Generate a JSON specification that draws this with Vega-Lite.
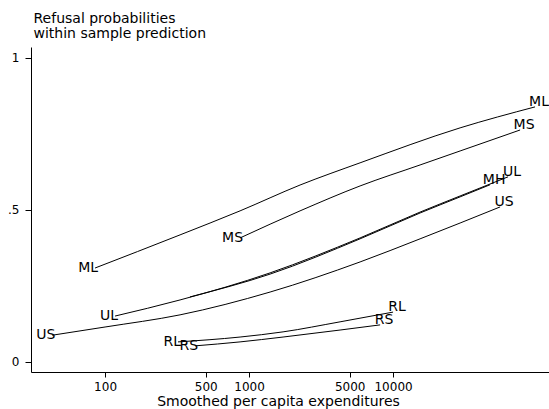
{
  "$schema": "https://vega.github.io/schema/vega-lite/v6.json",
  "width": 518,
  "height": 325,
  "autosize": {"type": "none"},
  "padding": {"left": 31, "top": 47, "right": 0, "bottom": 37},
  "background": "white",
  "config": {
    "view": {"stroke": null},
    "font": "DejaVu Sans",
    "axis": {"grid": false, "domainColor": "black", "tickColor": "black", "labelColor": "black", "titleColor": "black", "domainWidth": 1, "tickWidth": 1, "labelFont": "DejaVu Sans", "titleFont": "DejaVu Sans", "titleFontWeight": "normal"}
  },
  "data": {
    "values": [
      {"series": "ML", "x": 85.2, "y": 0.309},
      {"series": "ML", "x": 331.7, "y": 0.418},
      {"series": "ML", "x": 866, "y": 0.497},
      {"series": "ML", "x": 2260, "y": 0.582},
      {"series": "ML", "x": 5900, "y": 0.655},
      {"series": "ML", "x": 29200, "y": 0.770},
      {"series": "ML", "x": 96800, "y": 0.839},
      {"series": "MS", "x": 866, "y": 0.408},
      {"series": "MS", "x": 2260, "y": 0.497},
      {"series": "MS", "x": 5900, "y": 0.579},
      {"series": "MS", "x": 15400, "y": 0.648},
      {"series": "MS", "x": 29200, "y": 0.694},
      {"series": "MS", "x": 76200, "y": 0.763},
      {"series": "UL", "x": 117.3, "y": 0.151},
      {"series": "UL", "x": 331.7, "y": 0.204},
      {"series": "UL", "x": 1400, "y": 0.293},
      {"series": "UL", "x": 5900, "y": 0.408},
      {"series": "UL", "x": 15400, "y": 0.493},
      {"series": "UL", "x": 29200, "y": 0.546},
      {"series": "UL", "x": 62900, "y": 0.609},
      {"series": "MH", "x": 389, "y": 0.214},
      {"series": "MH", "x": 1400, "y": 0.289},
      {"series": "MH", "x": 5900, "y": 0.405},
      {"series": "MH", "x": 15400, "y": 0.490},
      {"series": "MH", "x": 29200, "y": 0.543},
      {"series": "MH", "x": 47200, "y": 0.583},
      {"series": "US", "x": 43, "y": 0.088},
      {"series": "US", "x": 100, "y": 0.115},
      {"series": "US", "x": 331.7, "y": 0.155},
      {"series": "US", "x": 1400, "y": 0.230},
      {"series": "US", "x": 5900, "y": 0.329},
      {"series": "US", "x": 15400, "y": 0.405},
      {"series": "US", "x": 29200, "y": 0.457},
      {"series": "US", "x": 55400, "y": 0.510},
      {"series": "RL", "x": 321, "y": 0.066},
      {"series": "RL", "x": 866, "y": 0.082},
      {"series": "RL", "x": 1722, "y": 0.099},
      {"series": "RL", "x": 4285, "y": 0.132},
      {"series": "RL", "x": 10000, "y": 0.164},
      {"series": "RS", "x": 422, "y": 0.053},
      {"series": "RS", "x": 866, "y": 0.066},
      {"series": "RS", "x": 1722, "y": 0.082},
      {"series": "RS", "x": 4285, "y": 0.105},
      {"series": "RS", "x": 8130, "y": 0.122}
    ]
  },
  "transform": [
    {"joinaggregate": [{"op": "min", "field": "x", "as": "xmin"}, {"op": "max", "field": "x", "as": "xmax"}], "groupby": ["series"]}
  ],
  "encoding": {
    "x": {
      "field": "x", "type": "quantitative",
      "scale": {"type": "log", "domain": [30.6, 121000], "nice": false, "zero": false},
      "axis": {
        "values": [100, 500, 1000, 5000, 10000],
        "format": "d",
        "labelFontSize": 12,
        "tickSize": 5,
        "labelBaseline": "alphabetic",
        "labelPadding": 13,
        "labelFlush": false,
        "labelOverlap": false,
        "title": "Smoothed per capita expenditures",
        "titleFontSize": 14,
        "titleX": 247,
        "titleY": 33,
        "titleAlign": "center",
        "titleBaseline": "alphabetic"
      }
    },
    "y": {
      "field": "y", "type": "quantitative",
      "scale": {"domain": [-0.033, 1.036], "nice": false, "zero": false},
      "axis": {
        "values": [0, 0.5, 1],
        "labelExpr": "datum.value == 0 ? '0' : (datum.value == 1 ? '1' : '.5')",
        "labelFontSize": 12,
        "tickSize": 6,
        "labelPadding": 6,
        "labelAlign": "right",
        "labelBaseline": "middle",
        "labelFlush": false,
        "title": ["Refusal probabilities", "within sample prediction"],
        "titleFontSize": 14,
        "titleLineHeight": 15,
        "titleAngle": 0,
        "titleAlign": "left",
        "titleBaseline": "alphabetic",
        "titleX": 2,
        "titleY": -25
      }
    }
  },
  "layer": [
    {
      "mark": {"type": "line", "color": "black", "strokeWidth": 1, "interpolate": "monotone"},
      "encoding": {"detail": {"field": "series"}}
    },
    {
      "transform": [{"filter": "datum.x == datum.xmin && datum.series != 'MH'"}],
      "mark": {"type": "text", "align": "right", "baseline": "middle", "dx": 3, "fontSize": 14, "color": "black"},
      "encoding": {"text": {"field": "series"}}
    },
    {
      "transform": [{"filter": "datum.x == datum.xmax"}],
      "mark": {"type": "text", "align": "center", "baseline": "alphabetic", "dx": 4, "dy": -1, "fontSize": 14, "color": "black"},
      "encoding": {"text": {"field": "series"}}
    }
  ]
}
